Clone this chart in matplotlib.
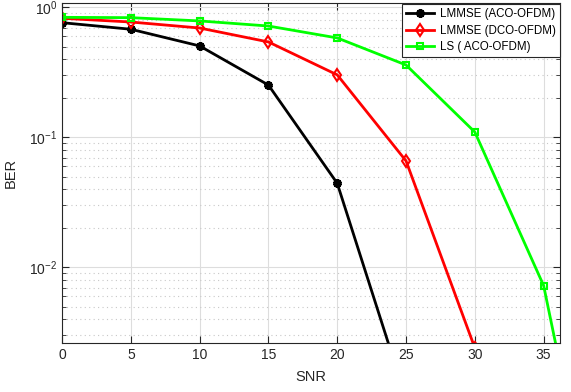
import matplotlib
matplotlib.use("Agg")
import matplotlib.pyplot as plt
from matplotlib.ticker import LogLocator, NullFormatter, MultipleLocator

plt.rcParams['font.family'] = ['Liberation Sans', 'DejaVu Sans']
plt.rcParams['mathtext.fontset'] = 'custom'
plt.rcParams['mathtext.rm'] = 'Liberation Sans'
plt.rcParams['mathtext.it'] = 'Liberation Sans'

snr = [0, 5, 10, 15, 20, 25, 30, 35, 40]
ber_lmmse_aco = [0.764, 0.68, 0.506, 0.253, 0.0444, 0.00098]
ber_lmmse_dco = [0.826, 0.773, 0.695, 0.543, 0.303, 0.066, 0.0024]
ber_ls_aco = [0.84, 0.835, 0.788, 0.72, 0.583, 0.361, 0.110, 0.00724, 0.00002]

fig = plt.figure(figsize=(5.71, 3.92), dpi=100)
ax = fig.add_axes([0.1086, 0.125, 0.8724, 0.867])

ax.semilogy(snr[:len(ber_lmmse_aco)], ber_lmmse_aco, color='black', lw=2,
            marker=(6, 2, 0), markersize=6, markeredgewidth=2.5, label='LMMSE (ACO-OFDM)')
ax.semilogy(snr[:len(ber_lmmse_dco)], ber_lmmse_dco, color='red', lw=2,
            marker='d', markersize=6, markerfacecolor='none', markeredgewidth=1.5,
            label='LMMSE (DCO-OFDM)')
ax.semilogy(snr[:len(ber_ls_aco)], ber_ls_aco, color='#00ff00', lw=2,
            marker='s', markersize=5, markerfacecolor='none', markeredgewidth=1.5,
            label='LS ( ACO-OFDM)')

ax.set_xlim(0, 36.2)
ax.set_ylim(0.00262, 1.08)
ax.xaxis.set_major_locator(MultipleLocator(5))
ax.yaxis.set_major_locator(LogLocator(base=10, numticks=10))
ax.yaxis.set_minor_locator(LogLocator(base=10, subs=range(2, 10), numticks=10))
ax.yaxis.set_minor_formatter(NullFormatter())

ax.grid(True, which='major', color='#dddddd', lw=0.8, ls='-')
ax.grid(True, which='minor', axis='y', color='#c8c8c8', lw=0.8, ls=(0, (1, 3)))
ax.set_axisbelow(True)

for s in ax.spines.values():
    s.set_color('#262626')
    s.set_linewidth(0.8)
ax.tick_params(which='both', direction='in', top=True, right=True, colors='#262626',
               labelsize=10, labelcolor='#262626')
ax.tick_params(which='major', length=5)
ax.tick_params(which='minor', length=3)

ax.set_xlabel('SNR', fontsize=10.5, color='#262626', labelpad=6)
ax.set_ylabel('BER', fontsize=10.5, color='#262626', labelpad=8)

leg = ax.legend(loc='upper right', fontsize=8.3, frameon=True, fancybox=False,
                edgecolor='#262626', framealpha=1, borderpad=0.35, labelspacing=0.42,
                handlelength=2.4, handletextpad=0.5, borderaxespad=0.05)
leg.get_frame().set_linewidth(0.8)

fig.savefig('out.png', dpi=100)
